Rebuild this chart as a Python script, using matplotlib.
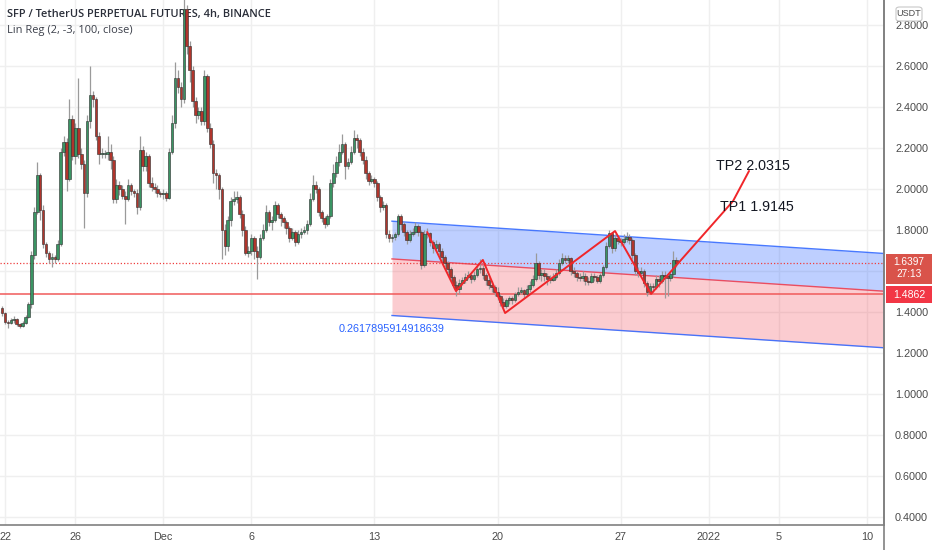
import matplotlib
matplotlib.use('Agg')
import matplotlib.pyplot as plt
import numpy as np
import pandas as pd
from matplotlib.patches import FancyBboxPatch, Rectangle

# ---------------- data ----------------
first_open = 1.42
closes = [1.395,1.35,1.345,1.36,1.365,1.34,1.33,1.345,1.375,1.44,
          1.68,1.89,2.07,1.90,1.73,1.69,1.66,1.67,1.66,1.73,
          2.18,2.23,2.05,2.34,2.16,2.30,2.17,2.12,1.98,2.33,
          2.46,2.44,2.26,2.17,2.17,2.17,2.18,2.14,1.95,2.02,
          2.00,1.965,1.95,2.02,1.99,1.98,1.91,2.19,2.11,2.16,
          2.03,2.01,2.00,1.98,1.975,1.98,1.955,2.18,2.32,2.54,
          2.50,2.44,2.88,2.70,2.58,2.43,2.36,2.38,2.33,2.55,
          2.30,2.22,2.08,2.07,2.00,1.80,1.72,1.85,1.94,1.95,
          1.96,1.88,1.80,1.69,1.70,1.76,1.70,1.67,1.76,1.80,
          1.89,1.84,1.85,1.92,1.88,1.86,1.84,1.81,1.76,1.79,
          1.74,1.78,1.79,1.80,1.83,1.95,2.02,2.00,1.89,1.86,
          1.83,1.87,2.03,2.08,2.13,2.18,2.22,2.11,2.13,2.18,
          2.25,2.24,2.18,2.14,2.08,2.04,2.05,2.03,1.96,1.91,
          1.92,1.78,1.76,1.765,1.78,1.87,1.83,1.79,1.75,1.78,
          1.79,1.82,1.79,1.63,1.78,1.785,1.74,1.71,1.73,1.70,
          1.67,1.64,1.61,1.57,1.53,1.51,1.54,1.555,1.57,1.58,
          1.56,1.58,1.61,1.615,1.58,1.555,1.53,1.52,1.50,1.48,
          1.45,1.43,1.46,1.47,1.46,1.49,1.50,1.505,1.49,1.51,
          1.53,1.56,1.64,1.58,1.59,1.575,1.56,1.555,1.57,1.59,
          1.64,1.665,1.655,1.665,1.60,1.59,1.57,1.565,1.575,1.55,
          1.545,1.575,1.57,1.55,1.58,1.62,1.72,1.785,1.71,1.76,
          1.745,1.74,1.755,1.765,1.75,1.68,1.60,1.59,1.60,1.54,
          1.50,1.525,1.52,1.56,1.55,1.58,1.575,1.565,1.585,1.655,
          1.6397]
highs = [1.43,1.40,1.36,1.37,1.38,1.37,1.345,1.355,1.385,1.45,
         1.70,1.91,2.13,2.08,1.92,1.74,1.70,1.69,1.68,1.75,
         2.20,2.26,2.25,2.44,2.36,2.32,2.54,2.20,2.14,2.36,
         2.60,2.48,2.45,2.28,2.20,2.19,2.26,2.22,2.16,2.05,
         2.04,2.02,1.99,2.05,2.03,2.00,2.00,2.26,2.21,2.18,
         2.17,2.06,2.03,2.02,1.99,2.00,1.99,2.20,2.36,2.62,
         2.58,2.52,2.93,2.90,2.72,2.60,2.45,2.40,2.40,2.58,
         2.56,2.32,2.24,2.10,2.08,2.01,1.83,1.87,1.96,1.99,
         1.99,1.97,1.90,1.82,1.72,1.78,1.77,1.72,1.78,1.83,
         1.92,1.90,1.87,1.94,1.93,1.89,1.87,1.85,1.82,1.81,
         1.80,1.80,1.81,1.82,1.85,1.98,2.07,2.04,2.01,1.90,
         1.87,1.88,2.05,2.12,2.16,2.22,2.27,2.23,2.15,2.21,
         2.29,2.27,2.25,2.20,2.16,2.09,2.07,2.06,2.04,1.97,
         1.94,1.93,1.80,1.78,1.79,1.88,1.88,1.84,1.80,1.80,
         1.81,1.84,1.83,1.80,1.80,1.81,1.79,1.75,1.75,1.74,
         1.71,1.68,1.65,1.62,1.58,1.55,1.56,1.57,1.59,1.60,
         1.59,1.60,1.63,1.66,1.63,1.59,1.57,1.55,1.53,1.52,
         1.49,1.47,1.47,1.48,1.48,1.50,1.52,1.52,1.51,1.53,
         1.55,1.58,1.69,1.65,1.61,1.61,1.59,1.58,1.59,1.61,
         1.66,1.69,1.68,1.68,1.67,1.62,1.60,1.59,1.60,1.59,
         1.57,1.59,1.59,1.58,1.59,1.63,1.74,1.80,1.79,1.78,
         1.77,1.76,1.78,1.79,1.78,1.76,1.69,1.62,1.62,1.61,
         1.55,1.54,1.54,1.58,1.58,1.60,1.60,1.59,1.60,1.70,
         1.67]
lows = [1.38,1.34,1.32,1.34,1.345,1.33,1.32,1.325,1.34,1.37,
        1.42,1.66,1.88,1.85,1.71,1.67,1.64,1.62,1.64,1.65,
        1.72,2.16,1.99,2.04,2.14,2.12,2.15,2.10,1.81,1.96,
        2.30,2.40,2.24,2.12,2.15,2.15,2.14,2.10,1.93,1.93,
        1.97,1.95,1.83,1.94,1.97,1.96,1.88,1.90,2.09,2.09,
        2.01,1.99,1.98,1.96,1.96,1.95,1.94,1.95,2.17,2.30,
        2.47,2.40,2.42,2.66,2.52,2.40,2.32,2.34,2.31,2.31,
        2.28,2.20,2.03,2.00,1.95,1.66,1.68,1.70,1.82,1.92,
        1.93,1.86,1.77,1.68,1.67,1.68,1.66,1.56,1.66,1.75,
        1.79,1.82,1.80,1.84,1.86,1.82,1.81,1.78,1.74,1.75,
        1.72,1.73,1.76,1.78,1.78,1.82,1.94,1.98,1.87,1.84,
        1.81,1.82,1.86,2.01,2.06,2.11,2.17,2.05,2.10,2.12,
        2.17,2.20,2.16,2.12,2.05,2.02,2.03,2.01,1.94,1.89,
        1.90,1.76,1.74,1.74,1.75,1.77,1.80,1.77,1.73,1.74,
        1.77,1.78,1.77,1.61,1.62,1.76,1.72,1.69,1.70,1.68,
        1.65,1.62,1.59,1.55,1.51,1.48,1.49,1.53,1.54,1.56,
        1.54,1.55,1.57,1.59,1.56,1.53,1.51,1.50,1.48,1.46,
        1.43,1.42,1.42,1.44,1.44,1.45,1.48,1.49,1.47,1.48,
        1.50,1.52,1.55,1.56,1.55,1.55,1.53,1.54,1.55,1.56,
        1.58,1.63,1.64,1.64,1.58,1.57,1.55,1.55,1.55,1.53,
        1.53,1.54,1.55,1.54,1.54,1.57,1.61,1.71,1.69,1.70,
        1.73,1.72,1.73,1.74,1.73,1.66,1.58,1.57,1.58,1.52,
        1.48,1.49,1.50,1.51,1.52,1.54,1.47,1.48,1.55,1.57,
        1.62]
start_time = '2021-11-21 20:00'

# x-axis tick dates and labels
tick_dates = ['2021-11-22','2021-11-26','2021-12-01','2021-12-06','2021-12-13',
              '2021-12-20','2021-12-27','2022-01-01','2022-01-05','2022-01-10']
tick_labels = ['22','26','Dec','6','13','20','27','2022','5','10']
price_ticks = [0.4,0.6,0.8,1.0,1.2,1.4,1.6,1.8,2.0,2.2,2.4,2.6,2.8]
hidden_price_ticks = [1.6]   # covered by the last-price tag

# linear regression channel (drawn object)
chan_start = '2021-12-14 00:00'
chan_mid_start = 1.659
chan_mid_end = 1.507
chan_end = '2022-01-11 00:00'
chan_up_dev = 0.184
chan_lo_dev = 0.276
chan_label = '0.2617895914918639'

# horizontal levels
level_line = 1.4862
last_price = 1.6397
countdown = '27:13'

# hand-drawn zigzag path
zz_times = ['2021-12-16 00:00','2021-12-17 15:20','2021-12-19 04:00','2021-12-20 10:20',
            '2021-12-26 16:20','2021-12-28 17:30','2022-01-02 09:20','2022-01-03 07:10']
zz_prices = [1.790,1.502,1.654,1.395,1.795,1.488,1.941,2.088]
tp_texts = ['TP1 1.9145','TP2 2.0315']
tp_times = ['2022-01-01 15:40','2022-01-01 10:00']
tp_prices = [1.912,2.112]

# ---------------- plot ----------------
origin = pd.Timestamp('2021-11-22 00:00')
def day(t):
    return (pd.Timestamp(t) - origin) / pd.Timedelta(days=1)

n = len(closes)
times = pd.date_range(start_time, periods=n, freq='4h')
xd = np.array([(t - origin) / pd.Timedelta(days=1) for t in times])
c = np.array(closes)
o = np.concatenate([[first_open], c[:-1]])
h = np.array(highs)
l = np.array(lows)

NARROW = ['Liberation Sans Narrow', 'Liberation Sans']

W, H = 932, 550
fig = plt.figure(figsize=(W/100, H/100), dpi=100)
fig.patch.set_facecolor('white')
ax = fig.add_axes([0, 25/H, 884/W, 525/H])
ax.set_facecolor('white')

ax.set_xlim(-5/17.59, 879/17.59)
ax.set_ylim(0.361, 2.922)

grid_c = '#efefef'
for p in price_ticks:
    ax.axhline(p, color=grid_c, lw=1, zorder=0)
for t in tick_dates:
    ax.axvline(day(t), color=grid_c, lw=1, zorder=0)

# channel
cx = np.array([day(chan_start), day(chan_end)])
mid = np.array([chan_mid_start, chan_mid_start + (chan_mid_end - chan_mid_start) *
                (cx[1]-cx[0]) / (day('2022-01-09 23:59') - cx[0])])
up = mid + chan_up_dev
lo = mid - chan_lo_dev
ax.fill_between(cx, mid, up, color='#2962ff', alpha=0.30, lw=0, zorder=1)
ax.fill_between(cx, lo, mid, color='#f23645', alpha=0.25, lw=0, zorder=1)
ax.plot(cx, up, color='#2962ff', lw=1, zorder=2, alpha=0.85)
ax.plot(cx, lo, color='#2962ff', lw=1, zorder=2, alpha=0.85)
ax.plot(cx, mid, color='#f23645', lw=1, zorder=2, alpha=0.85)
ax.text(cx[0], chan_mid_start - chan_lo_dev - 0.066, chan_label, color='#2962ff',
        fontsize=7.8, ha='center', va='center', family='Liberation Sans', zorder=2)

# levels
ax.axhline(level_line, color='#f05a5a', lw=1.1, zorder=2)
ax.axhline(last_price, color='#ef3f3f', lw=0.9, ls=(0, (1, 1.6)), zorder=2)

# candles
up_mask = c >= o
body_lo = np.minimum(o, c)
body_h = np.maximum(np.abs(c - o), 0.004)
ax.vlines(xd, l, h, color='#9a9a9a', lw=0.9, zorder=3)
ax.bar(xd, body_h, bottom=body_lo, width=0.15,
       color=np.where(up_mask, '#3a9463', '#b0352c'),
       edgecolor='#2e2e2e', linewidth=0.4, zorder=4)

# zigzag
ax.plot([day(t) for t in zz_times], zz_prices, color='#f0262a', lw=1.4, zorder=5,
        solid_capstyle='round')
for txt, t, p in zip(tp_texts, tp_times, tp_prices):
    ax.text(day(t), p, txt, fontsize=10.3, color='#131722', ha='left', va='center',
            family=NARROW, zorder=6)

# titles
ax.text(7/884, 1-15/525, 'SFP / TetherUS PERPETUAL FUTURES, 4h, BINANCE', transform=ax.transAxes,
        fontsize=7.9, color='#2a2e39', fontweight='semibold', family='Open Sans',
        ha='left', va='center', zorder=2)
ax.text(7/884, 1-30/525, 'Lin Reg (2, -3, 100, close)', transform=ax.transAxes,
        fontsize=7.9, color='#3a3e49', family='Open Sans', ha='left', va='center', zorder=2)

# axes styling
for s in ['top', 'left']:
    ax.spines[s].set_visible(False)
ax.spines['right'].set_color('#808080')
ax.spines['bottom'].set_color('#808080')
ax.spines['right'].set_linewidth(1.2)
ax.spines['bottom'].set_linewidth(1.2)
ax.yaxis.tick_right()
ax.set_yticks(price_ticks)
ax.set_yticklabels(['' if p in hidden_price_ticks else '%.4f' % p for p in price_ticks])
ax.set_xticks([day(t) for t in tick_dates])
ax.set_xticklabels(tick_labels)
ax.tick_params(axis='y', length=0, pad=8, labelsize=7.8, labelcolor='#4a4a4a')
ax.tick_params(axis='x', length=0, pad=5, labelsize=7.8, labelcolor='#4a4a4a')
for lab in ax.get_xticklabels() + ax.get_yticklabels():
    lab.set_family(NARROW)

# right axis line extending full height
fig.add_artist(plt.Line2D([884/W, 884/W], [0, 1], transform=fig.transFigure,
                          color='#808080', lw=1.2))

# price labels on right axis
def yfig(p):
    return ax.transData.transform((0, p))[1] / H

yc = yfig(last_price)
fig.add_artist(Rectangle((886/W, yc - 21/H), 46/W, 30/H, transform=fig.transFigure,
                         facecolor='#d9534a', edgecolor='none'))
fig.text(909/W, yc + 1/H, '%.4f' % last_price, color='white', fontsize=7.3, ha='center', va='center',
         family=NARROW)
fig.text(909/W, yc - 11/H, countdown, color='white', fontsize=7.3, ha='center', va='center',
         family=NARROW)
yl = yfig(level_line)
fig.add_artist(Rectangle((886/W, yl - 9/H), 46/W, 17/H, transform=fig.transFigure,
                         facecolor='#f23645', edgecolor='none'))
fig.text(909/W, yl - 1/H, '%.4f' % level_line, color='white', fontsize=7.6, ha='center', va='center',
         family=NARROW)

# USDT box
fig.add_artist(FancyBboxPatch((896/W, 1 - 21/H), 26/W, 14/H, transform=fig.transFigure,
                              boxstyle='round,pad=0,rounding_size=0.004',
                              facecolor='white', edgecolor='#c8c8c8', lw=0.8))
fig.text(909/W, 1 - 14/H, 'USDT', color='#4a4a4a', fontsize=6.5, ha='center', va='center',
         family=NARROW)

fig.savefig('out.png', dpi=100)
